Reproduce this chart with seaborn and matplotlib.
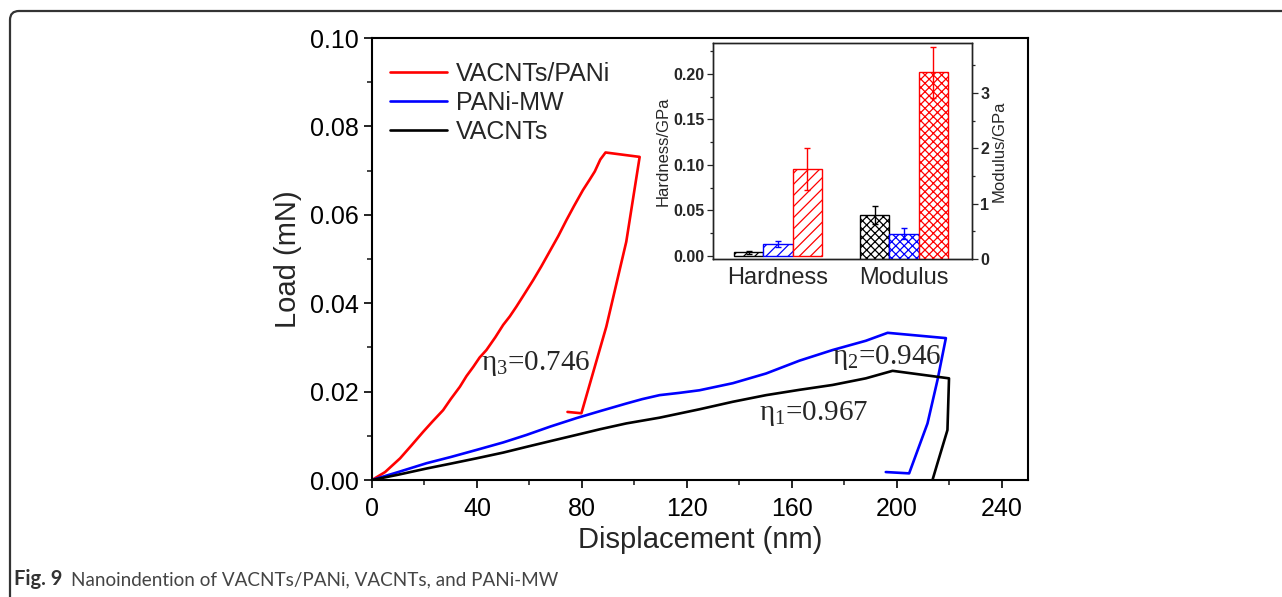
import pandas as pd
import matplotlib.pyplot as plt
import seaborn as sns
from matplotlib.patches import FancyBboxPatch
from matplotlib.transforms import IdentityTransform
from matplotlib.ticker import MultipleLocator, FormatStrFormatter

# ---------------------------------------------------------------------------------
# Datos: curvas carga-desplazamiento (nm, mN)
# ---------------------------------------------------------------------------------
pani_cnt_disp = [0, 5, 10.7, 15, 19.5, 23, 27.1, 30, 33.5, 36, 38.6, 41, 43.6, 47, 50,
                 52.5, 55, 58, 61.4, 64.5, 67.7, 71, 74.1, 77, 80.4, 83, 84.9, 87, 89.0,
                 102.0, 96.9, 89.3, 79.8, 74.5]
pani_cnt_load = [0, 0.0018, 0.0049, 0.0078, 0.0109, 0.0132, 0.0158, 0.0183, 0.0211, 0.0235,
                 0.0256, 0.0277, 0.0294, 0.0323, 0.0351, 0.0370, 0.0392, 0.0420, 0.0452,
                 0.0483, 0.0517, 0.0552, 0.0588, 0.0620, 0.0656, 0.0680, 0.0698, 0.0725,
                 0.0741, 0.0731, 0.0539, 0.0347, 0.0151, 0.0154]

pani_disp = [0, 10, 20.8, 30, 39.8, 50, 58.9, 68, 77.9, 87, 96.9, 103, 109.6, 117, 124.8,
             137.5, 150.2, 162.9, 175.5, 188.2, 196.5, 218.7, 215.5, 211.7, 204.7, 195.8]
pani_load = [0, 0.0018, 0.0038, 0.0052, 0.0068, 0.0085, 0.0102, 0.0121, 0.0140, 0.0156,
             0.0173, 0.0183, 0.0192, 0.0197, 0.0203, 0.0219, 0.0241, 0.0270, 0.0294,
             0.0315, 0.0333, 0.0321, 0.0226, 0.0128, 0.0015, 0.0018]

cnt_disp = [0, 10, 20.8, 30, 39.8, 50, 58.9, 68, 77.9, 87, 96.9, 109.6, 124.8, 137.5,
            150.2, 162.9, 175.5, 188.2, 198.4, 219.9, 219.3, 215.5, 213.6]
cnt_load = [0, 0.0012, 0.0026, 0.0037, 0.0049, 0.0062, 0.0075, 0.0088, 0.0102, 0.0115,
            0.0128, 0.0141, 0.0160, 0.0177, 0.0192, 0.0204, 0.0215, 0.0230, 0.0247,
            0.0230, 0.0113, 0.0038, 0.0]

samples = ["VACNTs/PANi", "PANi-MW", "VACNTs"]
colores = {"VACNTs/PANi": "#ff0000", "PANi-MW": "#0000ff", "VACNTs": "#000000"}

eta_labels = ["η$_1$=0.967", "η$_2$=0.946", "η$_3$=0.746"]
eta_pos = [(147.4, 0.0136), (175.4, 0.0262), (41.5, 0.0249)]

# Recuadro: dureza y modulo (GPa)
inset_samples = ["VACNTs", "PANi-MW", "VACNTs/PANi"]
hardness = [0.0037, 0.0126, 0.0956]
hardness_err = [0.0015, 0.0033, 0.0231]
modulus = [0.80, 0.456, 3.37]
modulus_err = [0.16, 0.10, 0.46]

curvas = pd.concat([
    pd.DataFrame({"disp": pani_cnt_disp, "load": pani_cnt_load, "sample": "VACNTs/PANi"}),
    pd.DataFrame({"disp": pani_disp, "load": pani_load, "sample": "PANi-MW"}),
    pd.DataFrame({"disp": cnt_disp, "load": cnt_load, "sample": "VACNTs"}),
], ignore_index=True)

sns.set_theme(style="ticks")
plt.rcParams["font.family"] = ["Liberation Sans", "DejaVu Sans"]
plt.rcParams["mathtext.fontset"] = "custom"
plt.rcParams["mathtext.rm"] = "Liberation Serif"
plt.rcParams["hatch.linewidth"] = 0.9

fig = plt.figure(figsize=(12.82, 5.97), dpi=100)
W, H = 1282, 597

# marco de la pagina
marco = FancyBboxPatch((10, -30), 1400, 30 + (H - 11), boxstyle="round,pad=0,rounding_size=9",
                       transform=IdentityTransform(), fill=False, edgecolor="#333333",
                       linewidth=1.6, zorder=0)
fig.patches.append(marco)

# ---------------------------------------------------------------------------------
# Grafico principal
# ---------------------------------------------------------------------------------
ax = fig.add_axes([372 / W, 1 - 480 / H, (1028 - 372) / W, (480 - 38) / H])
sns.lineplot(data=curvas, x="disp", y="load", hue="sample", hue_order=samples,
             palette=colores, sort=False, estimator=None, linewidth=1.9, ax=ax)

ax.set_xlim(0, 250)
ax.set_ylim(0, 0.10)
ax.xaxis.set_major_locator(MultipleLocator(40))
ax.xaxis.set_minor_locator(MultipleLocator(20))
ax.yaxis.set_major_locator(MultipleLocator(0.02))
ax.yaxis.set_minor_locator(MultipleLocator(0.01))
ax.yaxis.set_major_formatter(FormatStrFormatter("%.2f"))
ax.tick_params(which="major", direction="out", length=6, width=1.2, labelsize=18, colors="black")
ax.tick_params(axis="x", which="major", pad=6)
ax.tick_params(which="minor", direction="out", length=3.5, width=1.2)
for s in ax.spines.values():
    s.set_linewidth(1.5)
    s.set_color("black")
ax.set_xlabel("Displacement (nm)", fontsize=21, labelpad=4)
ax.set_ylabel("Load (mN)", fontsize=21, labelpad=6)

handles, labels = ax.get_legend_handles_labels()
ax.legend(handles, labels, loc="upper left", frameon=False, fontsize=18,
          handlelength=2.3, handletextpad=0.35, labelspacing=0.2,
          borderaxespad=0.3, bbox_to_anchor=(0.0, 0.985))

for txt, (x, y) in zip(eta_labels, eta_pos):
    ax.text(x, y, txt, fontsize=21, family="Liberation Serif", va="baseline", ha="left")

# ---------------------------------------------------------------------------------
# Recuadro: dureza / modulo
# ---------------------------------------------------------------------------------
axin = fig.add_axes([713 / W, 1 - 259 / H, (972 - 713) / W, (259 - 43) / H])
ax2 = axin.twinx()

pal_in = [colores[s] for s in inset_samples]
dur_df = pd.DataFrame({"prop": "Hardness", "sample": inset_samples, "val": hardness})
mod_df = pd.DataFrame({"prop": "Modulus", "sample": inset_samples, "val": modulus})

sns.barplot(data=dur_df, x="prop", y="val", hue="sample", order=["Hardness", "Modulus"],
            hue_order=inset_samples, palette=pal_in, fill=False, width=0.7, gap=0,
            errorbar=None, legend=False, linewidth=1.0, ax=axin)
sns.barplot(data=mod_df, x="prop", y="val", hue="sample", order=["Hardness", "Modulus"],
            hue_order=inset_samples, palette=pal_in, fill=False, width=0.7, gap=0,
            errorbar=None, legend=False, linewidth=1.0, ax=ax2)

for eje, vals, errs, hatch in [(axin, hardness, hardness_err, "///"),
                               (ax2, modulus, modulus_err, "xxxx")]:
    for cont, v, e, c in zip(eje.containers, vals, errs, pal_in):
        for p in cont.patches:
            if p.get_height() == 0 or pd.isna(p.get_height()):
                continue
            p.set_hatch(hatch)
            p.set_edgecolor(c)
            p.set_facecolor("white")
            xc = p.get_x() + p.get_width() / 2
            eje.errorbar(xc, p.get_height(), yerr=e, fmt="none", ecolor=c,
                         elinewidth=1.0, capsize=2.5, capthick=1.0)

axin.set_xlim(-0.516, 1.54)
axin.set_ylim(-0.0035, 0.234)
ax2.set_ylim(0, 3.9)
axin.yaxis.set_major_locator(MultipleLocator(0.05))
axin.yaxis.set_minor_locator(MultipleLocator(0.025))
axin.yaxis.set_major_formatter(FormatStrFormatter("%.2f"))
ax2.yaxis.set_major_locator(MultipleLocator(1))
ax2.yaxis.set_minor_locator(MultipleLocator(0.5))
for eje in (axin, ax2):
    eje.tick_params(axis="y", which="major", direction="out", length=4, width=0.9, labelsize=11.5, pad=2)
    eje.tick_params(axis="y", which="minor", direction="out", length=2, width=0.9)
    for lab in eje.get_yticklabels():
        lab.set_fontweight("bold")
    for s in eje.spines.values():
        s.set_linewidth(1.0)
        s.set_color("#222222")
axin.tick_params(axis="x", length=0, labelsize=17, pad=6)
axin.set_xlabel("")
axin.set_ylabel("Hardness/GPa", fontsize=12, labelpad=2)
ax2.set_ylabel("Modulus/GPa", fontsize=12, labelpad=2)

# ---------------------------------------------------------------------------------
# Pie de figura
# ---------------------------------------------------------------------------------
fig.text(14 / W, 1 - 585 / H, "Fig. 9", fontsize=14.5, fontweight="bold", family="Lato",
         color="#333333", va="baseline")
fig.text(71 / W, 1 - 585 / H, "Nanoindention of VACNTs/PANi, VACNTs, and PANi-MW",
         fontsize=13.6, family="Lato", color="#444444", va="baseline")

fig.savefig("out.png", dpi=100)
